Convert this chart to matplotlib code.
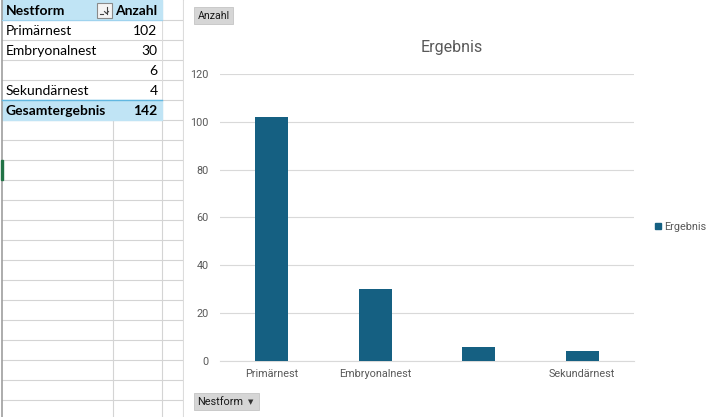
import matplotlib
matplotlib.use("Agg")
import matplotlib.pyplot as plt
from matplotlib.patches import Rectangle

# ---- data ----
categories = ["Primärnest", "Embryonalnest", "", "Sekundärnest"]
values = [102, 30, 6, 4]
yticks = [0, 20, 40, 60, 80, 100, 120]
series_name = "Ergebnis"
chart_title = "Ergebnis"
header_row = ["Nestform", "Anzahl"]
total_label = "Gesamtergebnis"
total_value = sum(values)

W, H = 720, 417
fig = plt.figure(figsize=(W / 100, H / 100), dpi=100)
plt.rcParams['font.family'] = ['Lato', 'DejaVu Sans']

bg = fig.add_axes([0, 0, 1, 1])
bg.set_xlim(0, W)
bg.set_ylim(H, 0)
bg.axis("off")

grid_c = "#D4D4D4"
# spreadsheet grid
for k in range(1, 21):
    y = 20 * k - 0.5
    bg.plot([2, 183], [y, y], color=grid_c, lw=0.8, zorder=1)
for x in [113, 161.5, 183]:
    bg.plot([x, x], [0, H], color=grid_c, lw=0.8, zorder=1)
bg.plot([1.5, 1.5], [0, H], color="#9E9E9E", lw=1.2, zorder=3)
bg.add_patch(Rectangle((0.5, 159.5), 2, 20, color="#217346", zorder=4))

# pivot table
tbl_c = "#C0E4F5"
bg.add_patch(Rectangle((2, 0), 159.5, 19.5, color=tbl_c, zorder=2))
bg.add_patch(Rectangle((2, 100), 159.5, 19.5, color=tbl_c, zorder=2))
bg.add_patch(Rectangle((2, 20), 111.5, 79.5, color="white", zorder=1.5))
bg.add_patch(Rectangle((113.5, 20), 47.5, 79.5, color="white", zorder=1.5))
for k in range(2, 5):
    y = 20 * k - 0.5
    bg.plot([2, 161], [y, y], color=grid_c, lw=0.8, zorder=1.6)
bg.plot([2, 161.5], [99.8, 99.8], color="#61B7E0", lw=1.0, zorder=3)
bg.plot([2, 161.5], [19.8, 19.8], color="#9FD3EE", lw=0.8, zorder=3)

tfs = 10
bg.text(6, 10.5, header_row[0], fontsize=tfs, fontweight="bold", va="center", ha="left", zorder=5)
bg.text(157.5, 10.5, header_row[1], fontsize=tfs, fontweight="bold", va="center", ha="right", zorder=5)
# filter button
bg.add_patch(Rectangle((96.5, 3), 15, 14.5, facecolor="#F4F4F4", edgecolor="#8A8A8A", lw=0.8, zorder=5))
bg.plot([106.5, 106.5], [6.5, 13.5], color="#444444", lw=0.8, zorder=6)
bg.plot([104.5, 106.5, 108.5], [11.5, 13.5, 11.5], color="#444444", lw=0.8, zorder=6)
bg.plot([100, 102.5], [13.5, 13.5], color="#444444", lw=0.8, zorder=6)

for i, (c, v) in enumerate(zip(categories, values)):
    y = 30.5 + 20 * i
    if c:
        bg.text(6, y, c, fontsize=tfs, va="center", ha="left", zorder=5)
    bg.text(157.5, y, str(v), fontsize=tfs, va="center", ha="right", zorder=5)
bg.text(6, 110.5, total_label, fontsize=tfs, fontweight="bold", va="center", ha="left", zorder=5)
bg.text(157.5, 110.5, str(total_value), fontsize=tfs, fontweight="bold", va="center", ha="right", zorder=5)

# chart area
bg.add_patch(Rectangle((184, 0), W - 184, H, color="white", zorder=2))

# field buttons
bg.add_patch(Rectangle((194, 7), 39, 17, facecolor="#D6D6D6", edgecolor="#C4C4C4", lw=0.6, zorder=5))
bg.text(213.5, 15.8, "Anzahl", fontsize=7.6, ha="center", va="center", color="#1A1A1A",
        family=["Roboto", "DejaVu Sans"], zorder=6)
bg.add_patch(Rectangle((194, 393), 65, 17, facecolor="#D6D6D6", edgecolor="#C4C4C4", lw=0.6, zorder=5))
bg.text(197.5, 401.8, "Nestform", fontsize=7.8, ha="left", va="center", color="#1A1A1A",
        family=["Roboto", "DejaVu Sans"], zorder=6)
bg.text(250.5, 402, "▼", fontsize=5, ha="center", va="center", color="#333333",
        family=["DejaVu Sans"], zorder=6)

# title and legend
txt_c = "#595959"
bg.text(452, 47, chart_title, fontsize=11.5, ha="center", va="center", color=txt_c,
        family=["Roboto", "DejaVu Sans"], zorder=6)
bg.add_patch(Rectangle((655, 223), 6, 6, color="#156082", zorder=6))
bg.text(664, 226.5, series_name, fontsize=7.8, ha="left", va="center", color=txt_c,
        family=["Roboto", "DejaVu Sans"], zorder=6)

# the chart itself
ax = fig.add_axes([220 / W, 1 - 361 / H, (634 - 220) / W, (361 - 74) / H])
ax.set_zorder(10)
ax.patch.set_alpha(0)
x = list(range(len(categories)))
ax.bar(x, values, width=0.32, color="#156082", zorder=3)
ax.set_xlim(-0.5, len(categories) - 0.5)
ax.set_ylim(0, 120)
ax.set_yticks(yticks)
ax.set_yticklabels([str(t) for t in yticks])
ax.set_xticks(x)
ax.set_xticklabels(categories)
for lab in ax.get_xticklabels() + ax.get_yticklabels():
    lab.set_family(["Roboto", "DejaVu Sans"])
    lab.set_fontsize(7.8)
    lab.set_color(txt_c)
ax.tick_params(axis="y", length=0, pad=8)
ax.tick_params(axis="x", length=0, pad=6)
ax.yaxis.grid(True, color="#D9D9D9", lw=0.8, zorder=0)
ax.set_axisbelow(True)
for s in ["top", "right", "left"]:
    ax.spines[s].set_visible(False)
ax.spines["bottom"].set_color("#D9D9D9")
ax.spines["bottom"].set_linewidth(0.8)

fig.savefig("out.png", dpi=100)
